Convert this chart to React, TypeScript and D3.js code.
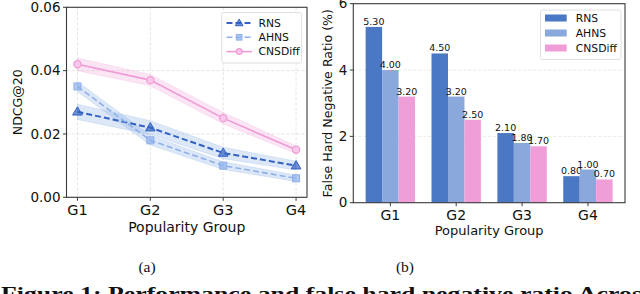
import * as d3 from "d3";

const groups = ["G1", "G2", "G3", "G4"];
const seriesNames = ["RNS", "AHNS", "CNSDiff"];

// panel (a): NDCG@20 with shaded spread
const ndcgRNS = [0.027, 0.022, 0.014, 0.01];
const ndcgAHNS = [0.035, 0.018, 0.01, 0.006];
const ndcgCNSDiff = [0.042, 0.037, 0.025, 0.015];
const spreadRNS = [0.0024, 0.0022, 0.0018, 0.0014];
const spreadAHNS = [0.0016, 0.0015, 0.0012, 0.001];
const spreadCNSDiff = [0.002, 0.0018, 0.0018, 0.0012];
const ndcgTicks = [0, 0.02, 0.04, 0.06];

// panel (b): false hard negative ratio
const fhnRNS = [5.3, 4.5, 2.1, 0.8];
const fhnAHNS = [4.0, 3.2, 1.8, 1.0];
const fhnCNSDiff = [3.2, 2.5, 1.7, 0.7];
const fhnTicks = [0, 2, 4, 6];

const lineColors = ["#3462c2", "#8fb0ea", "#ef9ad6"];
const barColors = ["#4a78c4", "#8aa8dc", "#f09ed8"];
const FONT = "DejaVu Sans, sans-serif";
const AXIS = "#3a3a3a";

function LinePanel() {
  const L = 66.5, R = 307, T = 7.3, B = 197.3;
  const x = d3.scaleLinear().domain([-0.15, 3.15]).range([L, R]);
  const y = d3.scaleLinear().domain([0, 0.06]).range([B, T]);
  const vals = [ndcgRNS, ndcgAHNS, ndcgCNSDiff];
  const spreads = [spreadRNS, spreadAHNS, spreadCNSDiff];
  const dashes = ["6,3", "6,3", null];
  const widths = [2, 1.6, 1.6];
  const line = d3.line<number>().x((_, i) => x(i)).y((d) => y(d));
  const band = (v: number[], s: number[]) =>
    d3.area<number>().x((_, i) => x(i)).y0((d, i) => y(d - s[i])).y1((d, i) => y(d + s[i]))(v) || "";

  const marker = (k: number, cx: number, cy: number, key: string, sc = 1) => {
    const c = lineColors[k];
    if (k === 0) {
      const p = d3.symbol(d3.symbolTriangle, 40 * sc * sc)() || "";
      return <path key={key} d={p} transform={`translate(${cx},${cy + 0.5})`} fill={c} fillOpacity={0.7} stroke={c} strokeWidth={1} />;
    }
    if (k === 1) {
      const h = 3.5 * sc;
      return <rect key={key} x={cx - h} y={cy - h} width={2 * h} height={2 * h} fill={c} fillOpacity={0.7} stroke={c} strokeWidth={1} />;
    }
    return <circle key={key} cx={cx} cy={cy} r={3.6 * sc} fill="#f7c8ea" stroke={c} strokeWidth={1.2} />;
  };

  return (
    <g>
      {/* grid */}
      {groups.map((_, i) => (
        <line key={"gx" + i} x1={x(i)} x2={x(i)} y1={T} y2={B} stroke="#dcdcdc" strokeWidth={0.8} strokeDasharray="3,2" />
      ))}
      {ndcgTicks.map((t) => (
        <line key={"gy" + t} x1={L} x2={R} y1={y(t)} y2={y(t)} stroke="#dcdcdc" strokeWidth={0.8} strokeDasharray="3,2" />
      ))}
      {/* bands */}
      {vals.map((v, k) => (
        <path key={"b" + k} d={band(v, spreads[k])} fill={k === 2 ? "#f2a6dc" : "#8aaee6"} fillOpacity={0.3} stroke={k === 2 ? "#f2a6dc" : "#8aaee6"} strokeOpacity={0.4} strokeWidth={0.6} />
      ))}
      {/* lines */}
      {vals.map((v, k) => (
        <path key={"l" + k} d={line(v) || ""} fill="none" stroke={lineColors[k]} strokeWidth={widths[k]} strokeDasharray={dashes[k] || undefined} />
      ))}
      {vals.map((v, k) => v.map((d, i) => marker(k, x(i), y(d), `m${k}-${i}`)))}
      {/* frame */}
      <rect x={L} y={T} width={R - L} height={B - T} fill="none" stroke={AXIS} strokeWidth={1.1} />
      {ndcgTicks.map((t) => (
        <g key={"ty" + t}>
          <line x1={L - 3.5} x2={L} y1={y(t)} y2={y(t)} stroke={AXIS} strokeWidth={1} />
          <text x={L - 6} y={y(t)} dy="0.35em" textAnchor="end" fontSize={13.5} fontFamily={FONT} fill="#111">
            {t.toFixed(2)}
          </text>
        </g>
      ))}
      {groups.map((g, i) => (
        <g key={"tx" + g}>
          <line x1={x(i)} x2={x(i)} y1={B} y2={B + 3.5} stroke={AXIS} strokeWidth={1} />
          <text x={x(i)} y={B + 17.5} textAnchor="middle" fontSize={14.5} fontFamily={FONT} fill="#111">
            {g}
          </text>
        </g>
      ))}
      <text x={(L + R) / 2} y={232} textAnchor="middle" fontSize={14} fontFamily={FONT} fill="#111">
        Popularity Group
      </text>
      <text transform={`translate(22,${(T + B) / 2}) rotate(-90)`} textAnchor="middle" fontSize={12.5} fontFamily={FONT} fill="#111">
        NDCG@20
      </text>
      {/* legend */}
      <rect x={221.7} y={12.5} width={80} height={50.5} rx={2} fill="#fff" fillOpacity={0.85} stroke="#d8d8d8" strokeWidth={0.8} />
      {seriesNames.map((n, k) => {
        const ly = 23 + k * 14.3;
        return (
          <g key={"lg" + n}>
            <line x1={226.5} x2={252} y1={ly} y2={ly} stroke={lineColors[k]} strokeWidth={widths[k]} strokeDasharray={dashes[k] || undefined} />
            {marker(k, 239.2, ly, "lm" + k, 0.8)}
            <text x={258.5} y={ly} dy="0.35em" fontSize={10.8} fontFamily={FONT} fill="#111">
              {n}
            </text>
          </g>
        );
      })}
    </g>
  );
}

function BarPanel() {
  const L = 353.3, R = 625, T = 3.7, B = 202.7;
  const bw = 0.25;
  const x = d3.scaleLinear().domain([-0.5625, 3.5625]).range([L, R]);
  const y = d3.scaleLinear().domain([0, 6]).range([B, T]);
  const vals = [fhnRNS, fhnAHNS, fhnCNSDiff];
  return (
    <g>
      {fhnTicks.slice(1, 3).map((t) => (
        <line key={"gy" + t} x1={L} x2={R} y1={y(t)} y2={y(t)} stroke="#e2e2e2" strokeWidth={0.8} strokeDasharray="3,2" />
      ))}
      {vals.map((v, k) =>
        v.map((d, i) => {
          const cx = i + (k - 1) * bw;
          const x0 = x(cx - bw / 2);
          const x1 = x(cx + bw / 2);
          return (
            <g key={`bar${k}-${i}`}>
              <rect x={x0} y={y(d)} width={x1 - x0} height={B - y(d)} fill={barColors[k]} />
              <text x={(x0 + x1) / 2} y={y(d) - 2} textAnchor="middle" fontSize={9.5} fontFamily={FONT} fill="#111">
                {d.toFixed(2)}
              </text>
            </g>
          );
        })
      )}
      <rect x={L} y={T} width={R - L} height={B - T} fill="none" stroke={AXIS} strokeWidth={1.1} />
      {fhnTicks.map((t) => (
        <g key={"ty" + t}>
          <line x1={L - 3.5} x2={L} y1={y(t)} y2={y(t)} stroke={AXIS} strokeWidth={1} />
          <text x={L - 6} y={y(t)} dy="0.35em" textAnchor="end" fontSize={13.5} fontFamily={FONT} fill="#111">
            {t}
          </text>
        </g>
      ))}
      {groups.map((g, i) => (
        <g key={"tx" + g}>
          <line x1={x(i)} x2={x(i)} y1={B} y2={B + 3.5} stroke={AXIS} strokeWidth={1} />
          <text x={x(i)} y={B + 17.5} textAnchor="middle" fontSize={14} fontFamily={FONT} fill="#111">
            {g}
          </text>
        </g>
      ))}
      <text x={(L + R) / 2} y={235} textAnchor="middle" fontSize={13} fontFamily={FONT} fill="#111">
        Popularity Group
      </text>
      <text transform={`translate(332,${(T + B) / 2}) rotate(-90)`} textAnchor="middle" fontSize={12.6} fontFamily={FONT} fill="#111">
        False Hard Negative Ratio (%)
      </text>
      <rect x={540.5} y={10} width={80.5} height={49.5} rx={2} fill="#fff" fillOpacity={0.85} stroke="#d8d8d8" strokeWidth={0.8} />
      {seriesNames.map((n, k) => {
        const ly = 18 + k * 15;
        return (
          <g key={"lg" + n}>
            <rect x={545} y={ly - 3.5} width={21.7} height={7} fill={barColors[k]} />
            <text x={575.7} y={ly} dy="0.35em" fontSize={10.8} fontFamily={FONT} fill="#111">
              {n}
            </text>
          </g>
        );
      })}
    </g>
  );
}

export default function App() {
  return (
    <svg width={640} height={294} style={{ position: "fixed", left: 0, top: 0, background: "#fff" }}>
      <rect width={640} height={294} fill="#fff" />
      <LinePanel />
      <BarPanel />
      <text x={147} y={271.5} textAnchor="middle" fontSize={15.5} fontFamily="Liberation Serif, serif" fill="#111">
        (a)
      </text>
      <text x={405} y={271.5} textAnchor="middle" fontSize={15.5} fontFamily="Liberation Serif, serif" fill="#111">
        (b)
      </text>
      <text x={1} y={299.5} fontSize={18} fontWeight="bold" fontFamily="Liberation Serif, serif" fill="#111" textLength={651} lengthAdjust="spacingAndGlyphs">
        Figure 1: Performance and false hard negative ratio Across
      </text>
    </svg>
  );
}
